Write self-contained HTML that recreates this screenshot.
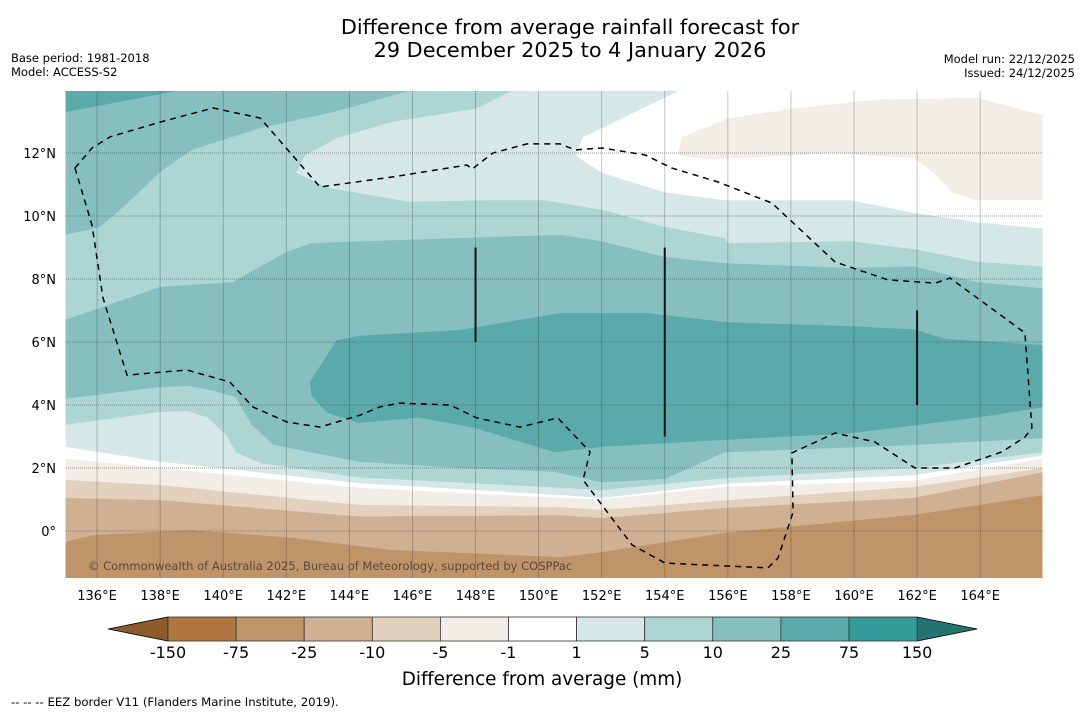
<!DOCTYPE html>
<html><head><meta charset="utf-8">
<style>
html,body{margin:0;padding:0;background:#fff;}
svg{display:block;font-family:"DejaVu Sans","Liberation Sans",sans-serif;}
</style></head>
<body>
<svg id="chart" width="1085" height="713" viewBox="0 0 1085 713" xmlns="http://www.w3.org/2000/svg">
<rect width="1085" height="713" fill="#fff"/>
<text x="570" y="34" font-size="20.8" text-anchor="middle" fill="#000">Difference from average rainfall forecast for</text>
<text x="570" y="57" font-size="20.8" text-anchor="middle" fill="#000">29 December 2025 to 4 January 2026</text>
<text x="11" y="62" font-size="11.5">Base period: 1981-2018</text>
<text x="11" y="76" font-size="11.5">Model: ACCESS-S2</text>
<text x="1075" y="63" font-size="11.5" text-anchor="end">Model run: 22/12/2025</text>
<text x="1075" y="77" font-size="11.5" text-anchor="end">Issued: 24/12/2025</text>
<defs><clipPath id="mapclip"><rect x="65.5" y="91" width="977" height="487"/></clipPath></defs>
<g id="map" clip-path="url(#mapclip)"></g>
<g id="axes"></g>
<g id="cbar"></g>
<text x="542" y="685" font-size="18.4" text-anchor="middle">Difference from average (mm)</text>
<text x="11" y="706" font-size="11.7">--  --  -- EEZ border V11 (Flanders Marine Institute, 2019).</text>
</svg>
<script>
// ---- data ----
const lonTicks = [136,138,140,142,144,146,148,150,152,154,156,158,160,162,164];
const latTicks = [0,2,4,6,8,10,12];
const levels = ["-150","-75","-25","-10","-5","-1","1","5","10","25","75","150"];
const levelColors = ["#ad773f","#bf9469","#d0b092","#e3d1be","#f2ede7","#ffffff","#d5e8e7","#acd5d4","#85bfbf","#5aa9ab","#339c98"];
const nwBand = [[135,14],[146,14],[143.5,13.3],[141.2,12.8],[139,12.1],[138,11.4],[137,10.44],[136.1,9.65],[135,9.4]];
const nwCore = [[135,14],[138.7,14],[135,13.3]];
const northLight = [[142.3,11.37],[142.6,11.93],[143.6,12.47],[145.4,13],[148,13.4],[149.2,14],[167,14],[167,8.4],[165.9,8.4],[163.9,8.55],[161.9,8.95],[159.9,9.2],[156,9.14],[155.9,9.3],[154,9.65],[152,10.2],[150.2,10.5],[148.5,10.5],[145.9,10.45],[143.3,10.9]];
const northWhite = [[154.5,14],[151.4,12.5],[151.2,11.9],[152,11.37],[154,10.75],[155.9,10.5],[159.9,10.5],[161.9,10.1],[163.9,9.8],[167,9.5],[167,14]];
const northBeige = [[154.4,11.94],[154.55,12.5],[156,13.1],[158,13.4],[160.75,13.7],[163.9,13.75],[166,13.2],[167,13],[167,10.5],[163.9,10.5],[163.1,10.75],[162.6,11.3],[161.9,11.85],[160.7,11.9],[159.4,12],[157.7,11.9],[155.3,11.8]];
const curveA = [[135,6.7],[138,7.75],[140.3,7.9],[142,8.85],[142.8,9.14],[147.5,9.3],[150.7,9.4],[152,9.2],[154,8.7],[155.9,8.5],[159.9,8.35],[161.9,8.4],[163.9,7.9],[166,7.7]];
const curveB = [[135,4.2],[138,4.57],[138.9,4.6],[139.5,4.5],[140.4,4.25],[140.9,3.37],[141.6,2.73],[144.3,2.2],[147.5,2.0],[150.5,1.88],[152,1.55],[154,1.65],[155.9,2.5],[161.9,2.73],[166,2.95]];
const curveC = [[135,3.37],[138,3.78],[138.9,3.8],[139.5,3.6],[140.1,3.05],[140.4,2.5],[141.2,2.15],[144.3,1.7],[150.7,1.37],[152,1.3],[155.9,1.68],[161.9,2.0],[166,2.5]];
const curveD = [[135,2.67],[138,2.2],[144.3,1.52],[150.7,1.14],[152,1.05],[155.9,1.5],[161.9,1.77],[166,2.4]];
const curveE = [[135,2.3],[138,2.0],[144.3,1.37],[150.7,1.05],[152,1.0],[155.9,1.4],[161.9,1.6],[166,2.3]];
const curveF = [[135,1.62],[138,1.46],[144.3,0.83],[150.7,0.76],[152,0.67],[155.9,0.97],[161.9,1.4],[166,2.0]];
const curveG = [[135,1.05],[138,0.98],[144.3,0.46],[150.7,0.5],[152,0.41],[155.9,0.73],[161.9,1.05],[166,1.87]];
const curveH = [[135,-0.35],[135.9,-0.13],[139,0.03],[142.2,-0.22],[145.3,-0.6],[150.7,-0.83],[152,-0.67],[155.9,-0.06],[161.9,0.51],[166,1.14]];
const core = [[142.75,4.73],[143.6,6.06],[144.3,6.2],[147.5,6.38],[150.7,6.92],[153.4,6.92],[156,6.63],[159.9,6.5],[161.9,6.4],[162.9,6.1],[166,5.9],[166,3.93],[163.9,3.6],[159.9,3.1],[156,2.9],[152,2.67],[150.5,2.5],[148,3.27],[146.2,3.6],[144.3,3.43],[143.3,3.75],[142.8,4.3]];
const eez = [[135.30,11.52],[135.84,12.16],[136.41,12.51],[138.00,12.98],[139.68,13.43],[141.17,13.11],[143.07,10.92],[145.38,11.24],[147.73,11.62],[147.89,11.49],[148.55,12.0],[149.63,12.29],[150.68,12.29],[151.15,12.10],[152.01,12.16],[153.37,11.94],[154.23,11.52],[155.69,11.08],[157.40,10.41],[159.40,8.54],[161.08,7.97],[162.57,7.87],[163.05,8.03],[165.42,6.29],[165.64,3.27],[165.42,2.98],[164.69,2.51],[163.20,2.0],[161.93,2.0],[160.66,2.83],[159.40,3.11],[158.03,2.48],[158.07,0.60],[157.59,-0.86],[157.27,-1.17],[154.01,-1.02],[152.96,-0.44],[151.41,1.62],[151.63,2.51],[150.61,3.59],[149.41,3.30],[148.04,3.59],[147.19,4.0],[145.60,4.06],[144.97,3.94],[144.34,3.68],[143.07,3.30],[142.02,3.46],[140.94,3.94],[140.21,4.73],[138.85,5.11],[136.95,4.95],[136.19,7.40],[135.84,9.71]];
const segLons = [148,154,162];
const segLat0 = [6,3,4];
const segLat1 = [9,9,7];

// ---- axis functions ----
const X = lon => 65.5 + (lon-135)*31.54;
const Y = lat => 531 - lat*31.5;
const NS = "http://www.w3.org/2000/svg";
function mk(tag, parent){const e=document.createElementNS(NS,tag);parent.appendChild(e);return e;}
const pts = arr => arr.map(p=>X(p[0]).toFixed(1)+","+Y(p[1]).toFixed(1)).join(" ");
const map = document.getElementById('map');
function poly(arr, fill, name){
  const p = mk('polygon', map);
  p.setAttribute('points', pts(arr));
  p.setAttribute('fill', fill);
  
  
}

const bg = mk('rect', map);
bg.setAttribute('x',60);bg.setAttribute('y',85);bg.setAttribute('width',1000);bg.setAttribute('height',500);
bg.setAttribute('fill',levelColors[7]);


poly(nwBand, levelColors[8], 'band-10-25-northwest');
poly(nwCore, levelColors[9], 'band-25-75-northwest');
poly(northLight, levelColors[6], 'band-1-5-north');
poly(northWhite, levelColors[5], 'band-neutral-north');
poly(northBeige, levelColors[4], 'band-minus5-minus1-north');
const southCurves = [curveA,curveB,curveC,curveD,curveE,curveF,curveG,curveH];
const southColors = [8,7,6,5,4,3,2,1];
southCurves.forEach((c,i)=>{
  const ext = [[134,c[0][1]]].concat(c).concat([[167,c[c.length-1][1]],[167,-3],[134,-3]]);
  poly(ext, levelColors[southColors[i]], 'band-south-'+i);
});
poly(core, levelColors[9], 'band-25-75-core');

// gridlines
lonTicks.forEach(l=>{
  const ln = mk('line', map);
  ln.setAttribute('x1',X(l));ln.setAttribute('x2',X(l));ln.setAttribute('y1',85);ln.setAttribute('y2',585);
  ln.setAttribute('stroke','#333');ln.setAttribute('stroke-width','0.8');ln.setAttribute('stroke-opacity','0.35');
  
  
});
latTicks.forEach(l=>{
  const ln = mk('line', map);
  ln.setAttribute('x1',60);ln.setAttribute('x2',1050);ln.setAttribute('y1',Y(l));ln.setAttribute('y2',Y(l));
  ln.setAttribute('stroke','#444');ln.setAttribute('stroke-width','0.7');ln.setAttribute('stroke-opacity','0.7');ln.setAttribute('stroke-dasharray','1 1');
  
  
});
// EEZ
const ez = mk('polygon', map);
ez.setAttribute('points', pts(eez));
ez.setAttribute('fill','none');ez.setAttribute('stroke','#000');ez.setAttribute('stroke-width','1.5');ez.setAttribute('stroke-dasharray','6 5');


segLons.forEach((l,i)=>{
  const ln = mk('line', map);
  ln.setAttribute('x1',X(l));ln.setAttribute('x2',X(l));ln.setAttribute('y1',Y(segLat0[i]));ln.setAttribute('y2',Y(segLat1[i]));
  ln.setAttribute('stroke','#111');ln.setAttribute('stroke-width','2');
  
  
});
const cp = mk('text', map);
cp.setAttribute('x',88);cp.setAttribute('y',570);cp.setAttribute('font-size','11.5');cp.setAttribute('fill','#5a4a3a');
cp.textContent='© Commonwealth of Australia 2025, Bureau of Meteorology, supported by COSPPac';



// tick labels
const axes = document.getElementById('axes');
lonTicks.forEach(l=>{
  const t = mk('text', axes);
  t.setAttribute('x',X(l));t.setAttribute('y',600);t.setAttribute('font-size','13');t.setAttribute('text-anchor','middle');
  t.textContent = l+'°E';
  
  
});
latTicks.forEach(l=>{
  const t = mk('text', axes);
  t.setAttribute('x',56);t.setAttribute('y',Y(l)+5);t.setAttribute('font-size','13');t.setAttribute('text-anchor','end');
  t.textContent = l===0 ? '0°' : l+'°N';
  
  
});

// colorbar
const cb = document.getElementById('cbar');
const cbX0 = 168, cbW = 68.1, cbY = 617, cbH = 24;
const lt = mk('polygon', cb);
lt.setAttribute('points', `108,${cbY+cbH/2} ${cbX0},${cbY} ${cbX0},${cbY+cbH}`);
lt.setAttribute('fill','#8d5a2a');lt.setAttribute('stroke','#000');lt.setAttribute('stroke-width','0.8');


const xEnd = cbX0 + cbW*levelColors.length;
const rt = mk('polygon', cb);
rt.setAttribute('points', `${xEnd},${cbY} ${xEnd+60},${cbY+cbH/2} ${xEnd},${cbY+cbH}`);
rt.setAttribute('fill','#257370');rt.setAttribute('stroke','#000');rt.setAttribute('stroke-width','0.8');


levelColors.forEach((c,i)=>{
  const r = mk('rect', cb);
  r.setAttribute('x',cbX0+i*cbW);r.setAttribute('y',cbY);r.setAttribute('width',cbW);r.setAttribute('height',cbH);
  r.setAttribute('fill',c);r.setAttribute('stroke','#333');r.setAttribute('stroke-width','0.8');
  
  
});
levels.forEach((lv,i)=>{
  const t = mk('text', cb);
  t.setAttribute('x',cbX0+i*cbW);t.setAttribute('y',658);t.setAttribute('font-size','16');t.setAttribute('text-anchor','middle');
  t.textContent = lv;
  
  
});
</script>
</body></html>
